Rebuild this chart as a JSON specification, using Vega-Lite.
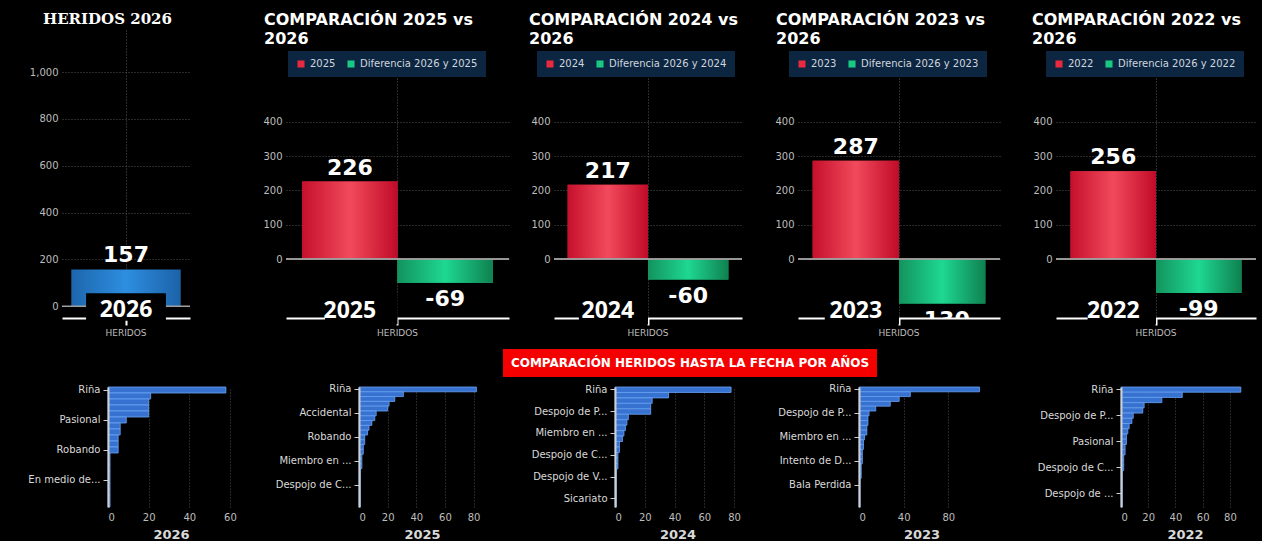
{
"$schema": "https://vega.github.io/schema/vega-lite/v6.json",
"background": "black",
"padding": {"left": 5, "top": 0, "right": 5, "bottom": 0},
"config": {"view": {"stroke": null}, "font": "DejaVu Sans", "axis": {"labelFont": "DejaVu Sans", "titleFont": "DejaVu Sans"}, "legend": {"labelFont": "DejaVu Sans"}, "title": {"font": "DejaVu Sans"}},
"resolve": {"scale": {"color": "independent", "xOffset": "independent"}, "legend": {"color": "independent"}},
"spacing": 12,
"vconcat": [
{"spacing": 0,
 "resolve": {"scale": {"color": "independent", "xOffset": "independent"}, "legend": {"color": "independent"}},
 "hconcat": [
 {"width": 1, "height": 1, "data": {"values": [{"t": ""}]}, "mark": {"type": "text", "color": "black"}, "encoding": {"text": {"field": "t", "type": "nominal"}}},
 {"spacing": 0, "resolve": {"scale": {"color": "independent", "xOffset": "independent"}, "legend": {"color": "independent"}}, "vconcat": [
 {"width": 1, "height": 1, "data": {"values": [{"t": ""}]}, "mark": {"type": "text", "color": "black"}, "encoding": {"text": {"field": "t", "type": "nominal"}}},
 {"width": 128, "height": 288,
  "title": {"text": "HERIDOS 2026", "anchor": "start", "frame": "group", "dx": -19, "offset": 3, "font": "DejaVu Serif", "fontSize": 15, "fontWeight": "bold", "color": "white"},
  "data": {"values": [{"cat": "HERIDOS", "anio": "2026", "valor": 157}]},
  "layer": [
   {"mark": {"type": "bar", "fill": {"gradient": "linear", "x1": 0, "y1": 0, "x2": 1, "y2": 0, "stops": [{"offset": 0, "color": "#1d66ad"}, {"offset": 0.5, "color": "#2d8ee0"}, {"offset": 1, "color": "#1c62a8"}]}},
    "encoding": {
     "x": {"field": "cat", "type": "nominal", "scale": {"paddingInner": 0, "paddingOuter": 0.085}, "axis": {"title": null, "labelAngle": 0, "labelColor": "#bdbdbd", "labelFontSize": 9, "labelPadding": 3, "domainColor": "white", "domainWidth": 2, "tickColor": "white", "tickWidth": 2, "tickSize": 7, "grid": true, "gridColor": "#555", "gridDash": [1, 2], "bandPosition": 0.5}},
     "y": {"field": "valor", "type": "quantitative", "scale": {"domain": [-50, 1180], "nice": false}, "axis": {"title": null, "values": [0, 200, 400, 600, 800, 1000], "labelExpr": "format(datum.value, ',')", "labelColor": "#bdbdbd", "labelFontSize": 10, "labelPadding": 4, "domain": false, "ticks": false, "gridColor": "#555", "gridDash": [1, 2], "minExtent": 56}}}},
   {"mark": {"type": "rule", "color": "#a0a0a0", "strokeWidth": 1.5}, "encoding": {"y": {"datum": 0}}},
   {"mark": {"type": "bar", "fill": "black", "width": {"band": 0.73}},
    "encoding": {"x": {"field": "cat", "type": "nominal"}, "y": {"datum": -62}, "y2": {"datum": 56}}},
   {"mark": {"type": "text", "fontSize": 22, "fontWeight": "bold", "color": "white", "baseline": "alphabetic", "dy": -8},
    "encoding": {"x": {"field": "cat", "type": "nominal"}, "y": {"field": "valor", "type": "quantitative"}, "text": {"field": "valor", "type": "nominal"}}},
   {"mark": {"type": "text", "font": "Open Sans", "fontSize": 23, "fontWeight": "bold", "color": "white", "baseline": "alphabetic", "dy": -1},
    "encoding": {"x": {"field": "cat", "type": "nominal"}, "y": {"datum": -50}, "text": {"field": "anio", "type": "nominal"}}}
  ]}]},
 {"spacing": 0, "resolve": {"scale": {"color": "independent", "xOffset": "independent"}, "legend": {"color": "independent"}}, "vconcat": [
 {"width": 1, "height": 1, "data": {"values": [{"t": ""}]}, "mark": {"type": "text", "color": "black"}, "encoding": {"text": {"field": "t", "type": "nominal"}}},
 {"width": 223, "height": 240,
  "title": {"text": ["COMPARACIÓN 2025 vs", "2026"], "anchor": "start", "frame": "group", "dx": -22, "offset": 4, "fontSize": 16, "fontWeight": "bold", "color": "white", "lineHeight": 19},
  "data": {"values": [{"cat": "HERIDOS", "tipo": "anio", "serie": "2025", "valor": 226, "anio": "2025"}, {"cat": "HERIDOS", "tipo": "dif", "serie": "Diferencia 2026 y 2025", "valor": -69, "anio": "2025"}]},
  "layer": [
   {"mark": "bar", "encoding": {
     "x": {"field": "cat", "type": "nominal", "scale": {"paddingInner": 0, "paddingOuter": 0.085}, "axis": {"title": null, "labelAngle": 0, "labelColor": "#bdbdbd", "labelFontSize": 9, "labelPadding": 3, "domainColor": "white", "domainWidth": 2, "tickColor": "white", "tickWidth": 2, "tickSize": 7, "grid": true, "gridColor": "#555", "gridDash": [1, 2], "bandPosition": 0.5}},
     "xOffset": {"field": "tipo", "type": "nominal", "scale": {"domain": ["anio", "dif"], "paddingInner": 0, "paddingOuter": 0}},
     "y": {"field": "valor", "type": "quantitative", "scale": {"domain": [-172, 528], "nice": false}, "axis": {"title": null, "values": [0, 100, 200, 300, 400], "labelColor": "#bdbdbd", "labelFontSize": 10, "labelPadding": 4, "domain": false, "ticks": false, "gridColor": "#555", "gridDash": [1, 2], "minExtent": 95}},
     "color": {"field": "serie", "type": "nominal", "scale": {"domain": ["2025", "Diferencia 2026 y 2025"], "range": ["#e8293f", "#19c983"]}, "legend": {"orient": "none", "legendX": 2, "legendY": -27, "direction": "horizontal", "title": null, "fillColor": "#0c2541", "padding": 8, "labelColor": "#cfd6de", "labelFontSize": 10, "symbolType": "square", "symbolSize": 50, "symbolStrokeWidth": 0, "columnPadding": 10, "labelOffset": 4}}}},
   {"transform": [{"filter": "datum.tipo === 'anio'"}], "mark": {"type": "bar", "fill": {"gradient": "linear", "x1": 0, "y1": 0, "x2": 1, "y2": 0, "stops": [{"offset": 0, "color": "#c5102c"}, {"offset": 0.5, "color": "#f24a5c"}, {"offset": 1, "color": "#c00b28"}]}},
    "encoding": {"x": {"field": "cat", "type": "nominal"}, "xOffset": {"field": "tipo", "type": "nominal"}, "y": {"field": "valor", "type": "quantitative"}}},
   {"transform": [{"filter": "datum.tipo === 'dif'"}], "mark": {"type": "bar", "fill": {"gradient": "linear", "x1": 0, "y1": 0, "x2": 1, "y2": 0, "stops": [{"offset": 0, "color": "#13935e"}, {"offset": 0.5, "color": "#1ed892"}, {"offset": 1, "color": "#0f8150"}]}},
    "encoding": {"x": {"field": "cat", "type": "nominal"}, "xOffset": {"field": "tipo", "type": "nominal"}, "y": {"field": "valor", "type": "quantitative"}}},
   {"mark": {"type": "rule", "color": "#a0a0a0", "strokeWidth": 1.5}, "encoding": {"y": {"datum": 0}}},
   {"transform": [{"filter": "datum.tipo === 'anio'"}], "mark": {"type": "bar", "fill": "black", "width": {"band": 0.76}},
    "encoding": {"x": {"field": "cat", "type": "nominal"}, "xOffset": {"field": "tipo", "type": "nominal"}, "y": {"datum": -190}, "y2": {"datum": -100}}},
   {"transform": [{"filter": "datum.tipo === 'anio'"}], "mark": {"type": "text", "fontSize": 22, "fontWeight": "bold", "color": "white", "baseline": "alphabetic", "dy": -7},
    "encoding": {"x": {"field": "cat", "type": "nominal"}, "xOffset": {"field": "tipo", "type": "nominal"}, "y": {"field": "valor", "type": "quantitative"}, "text": {"field": "valor", "type": "nominal"}}},
   {"transform": [{"filter": "datum.tipo === 'dif'"}], "mark": {"type": "text", "fontSize": 22, "fontWeight": "bold", "color": "white", "baseline": "alphabetic", "dy": 23, "clip": true},
    "encoding": {"x": {"field": "cat", "type": "nominal"}, "xOffset": {"field": "tipo", "type": "nominal"}, "y": {"field": "valor", "type": "quantitative"}, "text": {"field": "valor", "type": "nominal"}}},
   {"transform": [{"filter": "datum.tipo === 'anio'"}], "mark": {"type": "text", "font": "Open Sans", "fontSize": 23, "fontWeight": "bold", "color": "white", "baseline": "alphabetic"},
    "encoding": {"x": {"field": "cat", "type": "nominal"}, "xOffset": {"field": "tipo", "type": "nominal"}, "y": {"datum": -172}, "text": {"field": "anio", "type": "nominal"}}}
  ]}]},
 {"spacing": 0, "resolve": {"scale": {"color": "independent", "xOffset": "independent"}, "legend": {"color": "independent"}}, "vconcat": [
 {"width": 1, "height": 1, "data": {"values": [{"t": ""}]}, "mark": {"type": "text", "color": "black"}, "encoding": {"text": {"field": "t", "type": "nominal"}}},
 {"width": 188, "height": 240,
  "title": {"text": ["COMPARACIÓN 2024 vs", "2026"], "anchor": "start", "frame": "group", "dx": -25, "offset": 4, "fontSize": 16, "fontWeight": "bold", "color": "white", "lineHeight": 19},
  "data": {"values": [{"cat": "HERIDOS", "tipo": "anio", "serie": "2024", "valor": 217, "anio": "2024"}, {"cat": "HERIDOS", "tipo": "dif", "serie": "Diferencia 2026 y 2024", "valor": -60, "anio": "2024"}]},
  "layer": [
   {"mark": "bar", "encoding": {
     "x": {"field": "cat", "type": "nominal", "scale": {"paddingInner": 0, "paddingOuter": 0.085}, "axis": {"title": null, "labelAngle": 0, "labelColor": "#bdbdbd", "labelFontSize": 9, "labelPadding": 3, "domainColor": "white", "domainWidth": 2, "tickColor": "white", "tickWidth": 2, "tickSize": 7, "grid": true, "gridColor": "#555", "gridDash": [1, 2], "bandPosition": 0.5}},
     "xOffset": {"field": "tipo", "type": "nominal", "scale": {"domain": ["anio", "dif"], "paddingInner": 0, "paddingOuter": 0}},
     "y": {"field": "valor", "type": "quantitative", "scale": {"domain": [-172, 528], "nice": false}, "axis": {"title": null, "values": [0, 100, 200, 300, 400], "labelColor": "#bdbdbd", "labelFontSize": 10, "labelPadding": 4, "domain": false, "ticks": false, "gridColor": "#555", "gridDash": [1, 2], "minExtent": 44}},
     "color": {"field": "serie", "type": "nominal", "scale": {"domain": ["2024", "Diferencia 2026 y 2024"], "range": ["#e8293f", "#19c983"]}, "legend": {"orient": "none", "legendX": -17, "legendY": -27, "direction": "horizontal", "title": null, "fillColor": "#0c2541", "padding": 8, "labelColor": "#cfd6de", "labelFontSize": 10, "symbolType": "square", "symbolSize": 50, "symbolStrokeWidth": 0, "columnPadding": 10, "labelOffset": 4}}}},
   {"transform": [{"filter": "datum.tipo === 'anio'"}], "mark": {"type": "bar", "fill": {"gradient": "linear", "x1": 0, "y1": 0, "x2": 1, "y2": 0, "stops": [{"offset": 0, "color": "#c5102c"}, {"offset": 0.5, "color": "#f24a5c"}, {"offset": 1, "color": "#c00b28"}]}},
    "encoding": {"x": {"field": "cat", "type": "nominal"}, "xOffset": {"field": "tipo", "type": "nominal"}, "y": {"field": "valor", "type": "quantitative"}}},
   {"transform": [{"filter": "datum.tipo === 'dif'"}], "mark": {"type": "bar", "fill": {"gradient": "linear", "x1": 0, "y1": 0, "x2": 1, "y2": 0, "stops": [{"offset": 0, "color": "#13935e"}, {"offset": 0.5, "color": "#1ed892"}, {"offset": 1, "color": "#0f8150"}]}},
    "encoding": {"x": {"field": "cat", "type": "nominal"}, "xOffset": {"field": "tipo", "type": "nominal"}, "y": {"field": "valor", "type": "quantitative"}}},
   {"mark": {"type": "rule", "color": "#a0a0a0", "strokeWidth": 1.5}, "encoding": {"y": {"datum": 0}}},
   {"transform": [{"filter": "datum.tipo === 'anio'"}], "mark": {"type": "bar", "fill": "black", "width": {"band": 0.86}},
    "encoding": {"x": {"field": "cat", "type": "nominal"}, "xOffset": {"field": "tipo", "type": "nominal"}, "y": {"datum": -190}, "y2": {"datum": -100}}},
   {"transform": [{"filter": "datum.tipo === 'anio'"}], "mark": {"type": "text", "fontSize": 22, "fontWeight": "bold", "color": "white", "baseline": "alphabetic", "dy": -7},
    "encoding": {"x": {"field": "cat", "type": "nominal"}, "xOffset": {"field": "tipo", "type": "nominal"}, "y": {"field": "valor", "type": "quantitative"}, "text": {"field": "valor", "type": "nominal"}}},
   {"transform": [{"filter": "datum.tipo === 'dif'"}], "mark": {"type": "text", "fontSize": 22, "fontWeight": "bold", "color": "white", "baseline": "alphabetic", "dy": 23, "clip": true},
    "encoding": {"x": {"field": "cat", "type": "nominal"}, "xOffset": {"field": "tipo", "type": "nominal"}, "y": {"field": "valor", "type": "quantitative"}, "text": {"field": "valor", "type": "nominal"}}},
   {"transform": [{"filter": "datum.tipo === 'anio'"}], "mark": {"type": "text", "font": "Open Sans", "fontSize": 23, "fontWeight": "bold", "color": "white", "baseline": "alphabetic"},
    "encoding": {"x": {"field": "cat", "type": "nominal"}, "xOffset": {"field": "tipo", "type": "nominal"}, "y": {"datum": -172}, "text": {"field": "anio", "type": "nominal"}}}
  ]}]},
 {"spacing": 0, "resolve": {"scale": {"color": "independent", "xOffset": "independent"}, "legend": {"color": "independent"}}, "vconcat": [
 {"width": 1, "height": 1, "data": {"values": [{"t": ""}]}, "mark": {"type": "text", "color": "black"}, "encoding": {"text": {"field": "t", "type": "nominal"}}},
 {"width": 202, "height": 240,
  "title": {"text": ["COMPARACIÓN 2023 vs", "2026"], "anchor": "start", "frame": "group", "dx": -22, "offset": 4, "fontSize": 16, "fontWeight": "bold", "color": "white", "lineHeight": 19},
  "data": {"values": [{"cat": "HERIDOS", "tipo": "anio", "serie": "2023", "valor": 287, "anio": "2023"}, {"cat": "HERIDOS", "tipo": "dif", "serie": "Diferencia 2026 y 2023", "valor": -130, "anio": "2023"}]},
  "layer": [
   {"mark": "bar", "encoding": {
     "x": {"field": "cat", "type": "nominal", "scale": {"paddingInner": 0, "paddingOuter": 0.085}, "axis": {"title": null, "labelAngle": 0, "labelColor": "#bdbdbd", "labelFontSize": 9, "labelPadding": 3, "domainColor": "white", "domainWidth": 2, "tickColor": "white", "tickWidth": 2, "tickSize": 7, "grid": true, "gridColor": "#555", "gridDash": [1, 2], "bandPosition": 0.5}},
     "xOffset": {"field": "tipo", "type": "nominal", "scale": {"domain": ["anio", "dif"], "paddingInner": 0, "paddingOuter": 0}},
     "y": {"field": "valor", "type": "quantitative", "scale": {"domain": [-172, 528], "nice": false}, "axis": {"title": null, "values": [0, 100, 200, 300, 400], "labelColor": "#bdbdbd", "labelFontSize": 10, "labelPadding": 4, "domain": false, "ticks": false, "gridColor": "#555", "gridDash": [1, 2], "minExtent": 55}},
     "color": {"field": "serie", "type": "nominal", "scale": {"domain": ["2023", "Diferencia 2026 y 2023"], "range": ["#e8293f", "#19c983"]}, "legend": {"orient": "none", "legendX": -9, "legendY": -27, "direction": "horizontal", "title": null, "fillColor": "#0c2541", "padding": 8, "labelColor": "#cfd6de", "labelFontSize": 10, "symbolType": "square", "symbolSize": 50, "symbolStrokeWidth": 0, "columnPadding": 10, "labelOffset": 4}}}},
   {"transform": [{"filter": "datum.tipo === 'anio'"}], "mark": {"type": "bar", "fill": {"gradient": "linear", "x1": 0, "y1": 0, "x2": 1, "y2": 0, "stops": [{"offset": 0, "color": "#c5102c"}, {"offset": 0.5, "color": "#f24a5c"}, {"offset": 1, "color": "#c00b28"}]}},
    "encoding": {"x": {"field": "cat", "type": "nominal"}, "xOffset": {"field": "tipo", "type": "nominal"}, "y": {"field": "valor", "type": "quantitative"}}},
   {"transform": [{"filter": "datum.tipo === 'dif'"}], "mark": {"type": "bar", "fill": {"gradient": "linear", "x1": 0, "y1": 0, "x2": 1, "y2": 0, "stops": [{"offset": 0, "color": "#13935e"}, {"offset": 0.5, "color": "#1ed892"}, {"offset": 1, "color": "#0f8150"}]}},
    "encoding": {"x": {"field": "cat", "type": "nominal"}, "xOffset": {"field": "tipo", "type": "nominal"}, "y": {"field": "valor", "type": "quantitative"}}},
   {"mark": {"type": "rule", "color": "#a0a0a0", "strokeWidth": 1.5}, "encoding": {"y": {"datum": 0}}},
   {"transform": [{"filter": "datum.tipo === 'anio'"}], "mark": {"type": "bar", "fill": "black", "width": {"band": 0.86}},
    "encoding": {"x": {"field": "cat", "type": "nominal"}, "xOffset": {"field": "tipo", "type": "nominal"}, "y": {"datum": -190}, "y2": {"datum": -100}}},
   {"transform": [{"filter": "datum.tipo === 'anio'"}], "mark": {"type": "text", "fontSize": 22, "fontWeight": "bold", "color": "white", "baseline": "alphabetic", "dy": -7},
    "encoding": {"x": {"field": "cat", "type": "nominal"}, "xOffset": {"field": "tipo", "type": "nominal"}, "y": {"field": "valor", "type": "quantitative"}, "text": {"field": "valor", "type": "nominal"}}},
   {"transform": [{"filter": "datum.tipo === 'dif'"}], "mark": {"type": "text", "fontSize": 22, "fontWeight": "bold", "color": "white", "baseline": "alphabetic", "dy": 23, "clip": true},
    "encoding": {"x": {"field": "cat", "type": "nominal"}, "xOffset": {"field": "tipo", "type": "nominal"}, "y": {"field": "valor", "type": "quantitative"}, "text": {"field": "valor", "type": "nominal"}}},
   {"transform": [{"filter": "datum.tipo === 'anio'"}], "mark": {"type": "text", "font": "Open Sans", "fontSize": 23, "fontWeight": "bold", "color": "white", "baseline": "alphabetic"},
    "encoding": {"x": {"field": "cat", "type": "nominal"}, "xOffset": {"field": "tipo", "type": "nominal"}, "y": {"datum": -172}, "text": {"field": "anio", "type": "nominal"}}}
  ]}]},
 {"spacing": 0, "resolve": {"scale": {"color": "independent", "xOffset": "independent"}, "legend": {"color": "independent"}}, "vconcat": [
 {"width": 1, "height": 1, "data": {"values": [{"t": ""}]}, "mark": {"type": "text", "color": "black"}, "encoding": {"text": {"field": "t", "type": "nominal"}}},
 {"width": 200, "height": 240,
  "title": {"text": ["COMPARACIÓN 2022 vs", "2026"], "anchor": "start", "frame": "group", "dx": -24, "offset": 4, "fontSize": 16, "fontWeight": "bold", "color": "white", "lineHeight": 19},
  "data": {"values": [{"cat": "HERIDOS", "tipo": "anio", "serie": "2022", "valor": 256, "anio": "2022"}, {"cat": "HERIDOS", "tipo": "dif", "serie": "Diferencia 2026 y 2022", "valor": -99, "anio": "2022"}]},
  "layer": [
   {"mark": "bar", "encoding": {
     "x": {"field": "cat", "type": "nominal", "scale": {"paddingInner": 0, "paddingOuter": 0.085}, "axis": {"title": null, "labelAngle": 0, "labelColor": "#bdbdbd", "labelFontSize": 9, "labelPadding": 3, "domainColor": "white", "domainWidth": 2, "tickColor": "white", "tickWidth": 2, "tickSize": 7, "grid": true, "gridColor": "#555", "gridDash": [1, 2], "bandPosition": 0.5}},
     "xOffset": {"field": "tipo", "type": "nominal", "scale": {"domain": ["anio", "dif"], "paddingInner": 0, "paddingOuter": 0}},
     "y": {"field": "valor", "type": "quantitative", "scale": {"domain": [-172, 528], "nice": false}, "axis": {"title": null, "values": [0, 100, 200, 300, 400], "labelColor": "#bdbdbd", "labelFontSize": 10, "labelPadding": 4, "domain": false, "ticks": false, "gridColor": "#555", "gridDash": [1, 2], "minExtent": 55}},
     "color": {"field": "serie", "type": "nominal", "scale": {"domain": ["2022", "Diferencia 2026 y 2022"], "range": ["#e8293f", "#19c983"]}, "legend": {"orient": "none", "legendX": -10, "legendY": -27, "direction": "horizontal", "title": null, "fillColor": "#0c2541", "padding": 8, "labelColor": "#cfd6de", "labelFontSize": 10, "symbolType": "square", "symbolSize": 50, "symbolStrokeWidth": 0, "columnPadding": 10, "labelOffset": 4}}}},
   {"transform": [{"filter": "datum.tipo === 'anio'"}], "mark": {"type": "bar", "fill": {"gradient": "linear", "x1": 0, "y1": 0, "x2": 1, "y2": 0, "stops": [{"offset": 0, "color": "#c5102c"}, {"offset": 0.5, "color": "#f24a5c"}, {"offset": 1, "color": "#c00b28"}]}},
    "encoding": {"x": {"field": "cat", "type": "nominal"}, "xOffset": {"field": "tipo", "type": "nominal"}, "y": {"field": "valor", "type": "quantitative"}}},
   {"transform": [{"filter": "datum.tipo === 'dif'"}], "mark": {"type": "bar", "fill": {"gradient": "linear", "x1": 0, "y1": 0, "x2": 1, "y2": 0, "stops": [{"offset": 0, "color": "#13935e"}, {"offset": 0.5, "color": "#1ed892"}, {"offset": 1, "color": "#0f8150"}]}},
    "encoding": {"x": {"field": "cat", "type": "nominal"}, "xOffset": {"field": "tipo", "type": "nominal"}, "y": {"field": "valor", "type": "quantitative"}}},
   {"mark": {"type": "rule", "color": "#a0a0a0", "strokeWidth": 1.5}, "encoding": {"y": {"datum": 0}}},
   {"transform": [{"filter": "datum.tipo === 'anio'"}], "mark": {"type": "bar", "fill": "black", "width": {"band": 0.8}},
    "encoding": {"x": {"field": "cat", "type": "nominal"}, "xOffset": {"field": "tipo", "type": "nominal"}, "y": {"datum": -190}, "y2": {"datum": -100}}},
   {"transform": [{"filter": "datum.tipo === 'anio'"}], "mark": {"type": "text", "fontSize": 22, "fontWeight": "bold", "color": "white", "baseline": "alphabetic", "dy": -7},
    "encoding": {"x": {"field": "cat", "type": "nominal"}, "xOffset": {"field": "tipo", "type": "nominal"}, "y": {"field": "valor", "type": "quantitative"}, "text": {"field": "valor", "type": "nominal"}}},
   {"transform": [{"filter": "datum.tipo === 'dif'"}], "mark": {"type": "text", "fontSize": 22, "fontWeight": "bold", "color": "white", "baseline": "alphabetic", "dy": 23, "clip": true},
    "encoding": {"x": {"field": "cat", "type": "nominal"}, "xOffset": {"field": "tipo", "type": "nominal"}, "y": {"field": "valor", "type": "quantitative"}, "text": {"field": "valor", "type": "nominal"}}},
   {"transform": [{"filter": "datum.tipo === 'anio'"}], "mark": {"type": "text", "font": "Open Sans", "fontSize": 23, "fontWeight": "bold", "color": "white", "baseline": "alphabetic"},
    "encoding": {"x": {"field": "cat", "type": "nominal"}, "xOffset": {"field": "tipo", "type": "nominal"}, "y": {"datum": -172}, "text": {"field": "anio", "type": "nominal"}}}
  ]}]}
 ]
},
{"spacing": 4,
 "vconcat": [
 {"spacing": 0,
  "hconcat": [
  {"width": 498, "height": 28, "data": {"values": [{"t": ""}]}, "mark": {"type": "text", "color": "black"}, "encoding": {"text": {"field": "t", "type": "nominal"}}},
  {"width": 374, "height": 28, "view": {"fill": "#f40000", "stroke": null}, "data": {"values": [{"t": "COMPARACIÓN HERIDOS HASTA LA FECHA POR AÑOS"}]}, "mark": {"type": "text", "color": "white", "fontSize": 12, "fontWeight": "bold"}, "encoding": {"text": {"field": "t", "type": "nominal"}}}
 ]},
 {"spacing": 10,
  "hconcat": [
  {"width": 1, "height": 1, "data": {"values": [{"t": ""}]}, "mark": {"type": "text", "color": "black"}, "encoding": {"text": {"field": "t", "type": "nominal"}}},
  {"width": 126, "height": 120,
   "data": {"values": [
    {"m": "Riña", "n": 58}, {"m": "Accidental", "n": 21}, {"m": "Despojo de P...", "n": 20}, {"m": "Intolerancia", "n": 20}, {"m": "Venganza", "n": 20},
    {"m": "Pasional", "n": 9}, {"m": "Despojo de C...", "n": 6}, {"m": "Miembro en ...", "n": 6}, {"m": "Ajuste de cuentas", "n": 5}, {"m": "Sicariato", "n": 5},
    {"m": "Robando", "n": 5}, {"m": "Bala Perdida", "n": 1}, {"m": "Intento de D...", "n": 1}, {"m": "Extorsión", "n": 1}, {"m": "Discusión", "n": 1},
    {"m": "En medio de...", "n": 1}, {"m": "Defensa propia", "n": 1}, {"m": "Despojo de V...", "n": 1}, {"m": "Celos", "n": 1}, {"m": "Deudas", "n": 1}]},
   "mark": {"type": "bar", "fill": "#3872d0", "stroke": "#6aa3f5", "strokeWidth": 0.8},
   "encoding": {
    "y": {"field": "m", "type": "nominal", "sort": null, "scale": {"paddingInner": 0, "paddingOuter": 0}, "axis": {"title": null, "values": ["Riña", "Pasional", "Robando", "En medio de..."], "labelColor": "#d9d9d9", "labelFontSize": 10, "labelPadding": 3, "domainColor": "#cfcfcf", "domainWidth": 2, "tickColor": "#cfcfcf", "tickSize": 5, "minExtent": 92, "zindex": 1}},
    "x": {"field": "n", "type": "quantitative", "scale": {"domain": [0, 62], "nice": false}, "axis": {"title": "2026", "titleColor": "#d9d9d9", "titleFontSize": 13, "titleFontWeight": "bold", "titlePadding": 6, "values": [0, 20, 40, 60], "labelColor": "#bdbdbd", "labelFontSize": 10, "labelPadding": 5, "domain": false, "ticks": false, "grid": true, "gridColor": "#4a4a4a", "gridDash": [1, 2]}}}},
  {"width": 126, "height": 120,
   "data": {"values": [
    {"m": "Riña", "n": 82}, {"m": "Despojo de P...", "n": 31}, {"m": "Pasional", "n": 25}, {"m": "Intolerancia", "n": 21}, {"m": "Venganza", "n": 20},
    {"m": "Accidental", "n": 12}, {"m": "Ajuste de cuentas", "n": 11}, {"m": "Sicariato", "n": 9}, {"m": "Extorsión", "n": 7}, {"m": "Discusión", "n": 6},
    {"m": "Robando", "n": 4}, {"m": "Bala Perdida", "n": 4}, {"m": "Intento de D...", "n": 3}, {"m": "Celos", "n": 3}, {"m": "Defensa propia", "n": 2},
    {"m": "Miembro en ...", "n": 2}, {"m": "Deudas", "n": 2}, {"m": "Despojo de V...", "n": 1}, {"m": "Asalto", "n": 1}, {"m": "Hurto", "n": 1},
    {"m": "Despojo de C...", "n": 1}, {"m": "Enfrentamiento", "n": 1}, {"m": "Disturbio", "n": 1}, {"m": "Legítima defensa", "n": 1}, {"m": "Por determinar", "n": 1}]},
   "mark": {"type": "bar", "fill": "#3872d0", "stroke": "#6aa3f5", "strokeWidth": 0.8},
   "encoding": {
    "y": {"field": "m", "type": "nominal", "sort": null, "scale": {"paddingInner": 0, "paddingOuter": 0}, "axis": {"title": null, "values": ["Riña", "Accidental", "Robando", "Miembro en ...", "Despojo de C..."], "labelColor": "#d9d9d9", "labelFontSize": 10, "labelPadding": 3, "domainColor": "#cfcfcf", "domainWidth": 2, "tickColor": "#cfcfcf", "tickSize": 5, "minExtent": 112, "zindex": 1}},
    "x": {"field": "n", "type": "quantitative", "scale": {"domain": [0, 88], "nice": false}, "axis": {"title": "2025", "titleColor": "#d9d9d9", "titleFontSize": 13, "titleFontWeight": "bold", "titlePadding": 6, "values": [0, 20, 40, 60, 80], "labelColor": "#bdbdbd", "labelFontSize": 10, "labelPadding": 5, "domain": false, "ticks": false, "grid": true, "gridColor": "#4a4a4a", "gridDash": [1, 2]}}}},
  {"width": 125, "height": 120,
   "data": {"values": [
    {"m": "Riña", "n": 78}, {"m": "Pasional", "n": 36}, {"m": "Accidental", "n": 25}, {"m": "Intolerancia", "n": 24}, {"m": "Despojo de P...", "n": 24},
    {"m": "Venganza", "n": 9}, {"m": "Ajuste de cuentas", "n": 8}, {"m": "Robando", "n": 7}, {"m": "Miembro en ...", "n": 6}, {"m": "Extorsión", "n": 5},
    {"m": "Discusión", "n": 3}, {"m": "Bala Perdida", "n": 3}, {"m": "Despojo de C...", "n": 2}, {"m": "Celos", "n": 2}, {"m": "Intento de D...", "n": 2},
    {"m": "Defensa propia", "n": 1}, {"m": "Despojo de V...", "n": 1}, {"m": "Deudas", "n": 1}, {"m": "Asalto", "n": 1}, {"m": "Hurto", "n": 1},
    {"m": "Sicariato", "n": 1}, {"m": "Enfrentamiento", "n": 1}]},
   "mark": {"type": "bar", "fill": "#3872d0", "stroke": "#6aa3f5", "strokeWidth": 0.8},
   "encoding": {
    "y": {"field": "m", "type": "nominal", "sort": null, "scale": {"paddingInner": 0, "paddingOuter": 0}, "axis": {"title": null, "values": ["Riña", "Despojo de P...", "Miembro en ...", "Despojo de C...", "Despojo de V...", "Sicariato"], "labelColor": "#d9d9d9", "labelFontSize": 10, "labelPadding": 3, "domainColor": "#cfcfcf", "domainWidth": 2, "tickColor": "#cfcfcf", "tickSize": 5, "minExtent": 120, "zindex": 1}},
    "x": {"field": "n", "type": "quantitative", "scale": {"domain": [0, 84], "nice": false}, "axis": {"title": "2024", "titleColor": "#d9d9d9", "titleFontSize": 13, "titleFontWeight": "bold", "titlePadding": 6, "values": [0, 20, 40, 60, 80], "labelColor": "#bdbdbd", "labelFontSize": 10, "labelPadding": 5, "domain": false, "ticks": false, "grid": true, "gridColor": "#4a4a4a", "gridDash": [1, 2]}}}},
  {"width": 125, "height": 120,
   "data": {"values": [
    {"m": "Riña", "n": 108}, {"m": "Pasional", "n": 46}, {"m": "Accidental", "n": 36}, {"m": "Intolerancia", "n": 28}, {"m": "Venganza", "n": 15},
    {"m": "Despojo de P...", "n": 9}, {"m": "Ajuste de cuentas", "n": 8}, {"m": "Robando", "n": 8}, {"m": "Extorsión", "n": 7}, {"m": "Discusión", "n": 7},
    {"m": "Miembro en ...", "n": 5}, {"m": "Celos", "n": 4}, {"m": "Sicariato", "n": 4}, {"m": "Despojo de C...", "n": 3}, {"m": "Defensa propia", "n": 3},
    {"m": "Intento de D...", "n": 3}, {"m": "Deudas", "n": 2}, {"m": "Asalto", "n": 2}, {"m": "Hurto", "n": 2}, {"m": "Enfrentamiento", "n": 1},
    {"m": "Bala Perdida", "n": 1}, {"m": "Disturbio", "n": 1}, {"m": "Legítima defensa", "n": 1}, {"m": "Por determinar", "n": 1}, {"m": "Despojo de V...", "n": 1}]},
   "mark": {"type": "bar", "fill": "#3872d0", "stroke": "#6aa3f5", "strokeWidth": 0.8},
   "encoding": {
    "y": {"field": "m", "type": "nominal", "sort": null, "scale": {"paddingInner": 0, "paddingOuter": 0}, "axis": {"title": null, "values": ["Riña", "Despojo de P...", "Miembro en ...", "Intento de D...", "Bala Perdida"], "labelColor": "#d9d9d9", "labelFontSize": 10, "labelPadding": 3, "domainColor": "#cfcfcf", "domainWidth": 2, "tickColor": "#cfcfcf", "tickSize": 5, "minExtent": 108, "zindex": 1}},
    "x": {"field": "n", "type": "quantitative", "scale": {"domain": [0, 112], "nice": false}, "axis": {"title": "2023", "titleColor": "#d9d9d9", "titleFontSize": 13, "titleFontWeight": "bold", "titlePadding": 6, "values": [0, 40, 80], "labelColor": "#bdbdbd", "labelFontSize": 10, "labelPadding": 5, "domain": false, "ticks": false, "grid": true, "gridColor": "#4a4a4a", "gridDash": [1, 2]}}}},
  {"width": 128, "height": 120,
   "data": {"values": [
    {"m": "Riña", "n": 88}, {"m": "Accidental", "n": 45}, {"m": "Intolerancia", "n": 30}, {"m": "Venganza", "n": 17}, {"m": "Ajuste de cuentas", "n": 16},
    {"m": "Despojo de P...", "n": 9}, {"m": "Robando", "n": 8}, {"m": "Extorsión", "n": 6}, {"m": "Discusión", "n": 5}, {"m": "Miembro en ...", "n": 4},
    {"m": "Pasional", "n": 4}, {"m": "Celos", "n": 3}, {"m": "Sicariato", "n": 3}, {"m": "Intento de D...", "n": 2}, {"m": "Defensa propia", "n": 2},
    {"m": "Despojo de C...", "n": 2}, {"m": "Deudas", "n": 1}, {"m": "Asalto", "n": 1}, {"m": "Hurto", "n": 1}, {"m": "Bala Perdida", "n": 1},
    {"m": "Despojo de ...", "n": 1}, {"m": "Enfrentamiento", "n": 1}, {"m": "Disturbio", "n": 1}]},
   "mark": {"type": "bar", "fill": "#3872d0", "stroke": "#6aa3f5", "strokeWidth": 0.8},
   "encoding": {
    "y": {"field": "m", "type": "nominal", "sort": null, "scale": {"paddingInner": 0, "paddingOuter": 0}, "axis": {"title": null, "values": ["Riña", "Despojo de P...", "Pasional", "Despojo de C...", "Despojo de ..."], "labelColor": "#d9d9d9", "labelFontSize": 10, "labelPadding": 3, "domainColor": "#cfcfcf", "domainWidth": 2, "tickColor": "#cfcfcf", "tickSize": 5, "minExtent": 127, "zindex": 1}},
    "x": {"field": "n", "type": "quantitative", "scale": {"domain": [0, 94], "nice": false}, "axis": {"title": "2022", "titleColor": "#d9d9d9", "titleFontSize": 13, "titleFontWeight": "bold", "titlePadding": 6, "values": [0, 20, 40, 60, 80], "labelColor": "#bdbdbd", "labelFontSize": 10, "labelPadding": 5, "domain": false, "ticks": false, "grid": true, "gridColor": "#4a4a4a", "gridDash": [1, 2]}}}}
 ]}
]}
]
}
